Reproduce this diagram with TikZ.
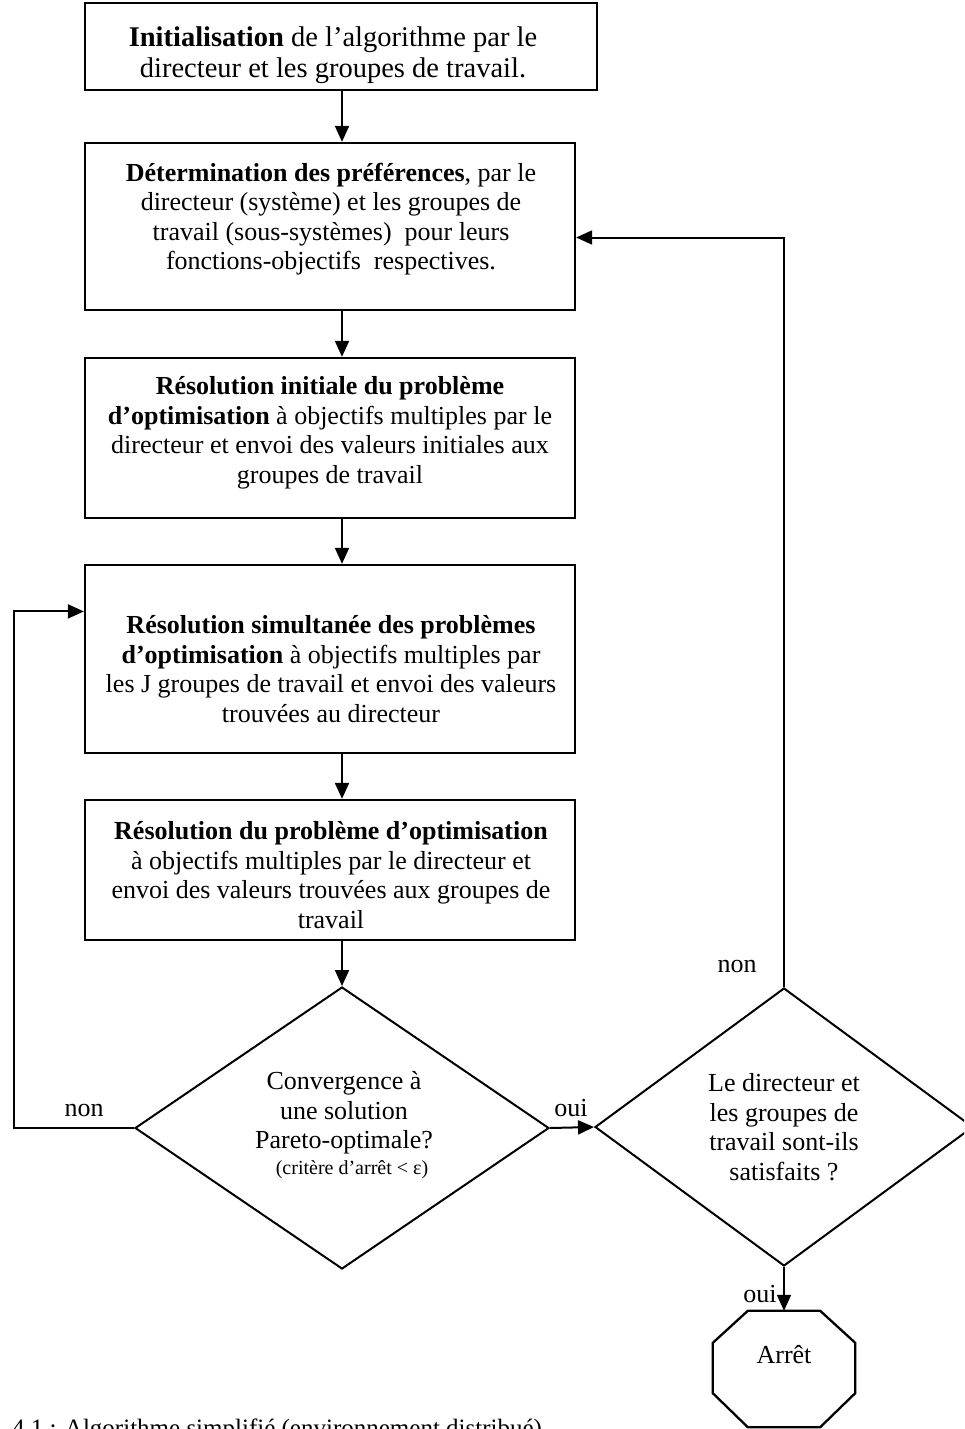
\documentclass[tikz,border=0pt]{standalone}
\usepackage{fontspec}
\setmainfont{Liberation Serif}
\usetikzlibrary{arrows.meta,shapes.geometric,calc}

\tikzset{
  box/.style={draw, line width=2.3pt, rectangle, inner sep=0pt},
  dec/.style={draw, line width=2pt, diamond, inner sep=0pt},
  txt/.style={align=center, inner sep=0pt, font=\fontsize{26}{29.5}\selectfont},
  bigtxt/.style={align=center, inner sep=0pt, font=\fontsize{28.5}{30.5}\selectfont},
  small/.style={inner sep=0pt, font=\fontsize{20}{22}\selectfont},
  lbl/.style={inner sep=0pt, font=\fontsize{26}{29.5}\selectfont},
  arr/.style={line width=2pt, -{Triangle[length=16pt,width=14pt]}},
}

\begin{document}
\begin{tikzpicture}[x=1pt, y=-1pt]
\useasboundingbox (0,0) rectangle (964,1429);
\clip (0,0) rectangle (964,1429);

% process boxes
\node[box, minimum width=512, minimum height=87]  (b1) at (341,46.5) {};
\node[box, minimum width=490, minimum height=167] (b2) at (330,226.5) {};
\node[box, minimum width=490, minimum height=160] (b3) at (330,438) {};
\node[box, minimum width=490, minimum height=188] (b4) at (330,659) {};
\node[box, minimum width=490, minimum height=140] (b5) at (330,870) {};

\node[bigtxt] (t1) at (333,55) {\textbf{Initialisation} de l'algorithme par le\\directeur et les groupes de travail.};
\node[txt] (t2) at (331,219) {\textbf{Détermination des préférences}, par le\\directeur (système) et les groupes de\\travail (sous-systèmes)\ \ pour leurs\\fonctions-objectifs\ \ respectives.};
\node[txt] (t3) at (330,433) {\textbf{Résolution initiale du problème}\\\textbf{d'optimisation} à objectifs multiples par le\\directeur et envoi des valeurs initiales aux\\groupes de travail};
\node[txt] (t4) at (331,669) {\textbf{Résolution simultanée des problèmes}\\\textbf{d'optimisation} à objectifs multiples par\\les J groupes de travail et envoi des valeurs\\trouvées au directeur};
\node[txt] (t5) at (331,875) {\textbf{Résolution du problème d'optimisation}\\à objectifs multiples par le directeur et\\envoi des valeurs trouvées aux groupes de\\travail};

% decisions
\node[dec, minimum width=414, minimum height=282] (d1) at (342,1128) {};
\node[dec, minimum width=378, minimum height=278] (d2) at (784,1127) {};
\node[txt] (t6) at (344,1113) {Convergence à\\une solution\\Pareto-optimale?};
\node[small] (t7) at (352,1170) {(critère d'arrêt < ε)};
\node[txt] (t8) at (784,1127) {Le directeur et\\les groupes de\\travail sont-ils\\satisfaits ?};

% stop octagon
\node[minimum width=142, minimum height=116, inner sep=0pt] (stop) at (784,1369) {};
\draw[line width=2.3pt]
  ($(stop.north west)+(35,0)$) -- ($(stop.north east)+(-35,0)$)
  -- ($(stop.north east)+(0,32)$) -- ($(stop.south east)+(0,-34)$)
  -- ($(stop.south east)+(-35,0)$) -- ($(stop.south west)+(35,0)$)
  -- ($(stop.south west)+(0,-34)$) -- ($(stop.north west)+(0,32)$) -- cycle;
\node[lbl] (t9) at (784,1355) {Arrêt};

% main flow
\draw[arr] (b1.south -| d1.north) -- (b2.north -| d1.north);
\draw[arr] (b2.south -| d1.north) -- (b3.north -| d1.north);
\draw[arr] (b3.south -| d1.north) -- (b4.north -| d1.north);
\draw[arr] (b4.south -| d1.north) -- (b5.north -| d1.north);
\draw[arr] (b5.south -| d1.north) -- (d1.north);
\draw[arr] (d1.east) -- (d2.west);
\draw[arr] (d2.south) -- (stop.north);

% loops back
\coordinate (in4) at ($(b4.north west)!0.25!(b4.south west)$);
\coordinate (loopL) at (14,1128);
\draw[arr] (d1.west) -- (loopL) |- (in4);
\coordinate (in2) at ($(b2.north east)!0.565!(b2.south east)$);
\draw[arr] (d2.north) |- (in2);

% branch labels
\node[lbl] (n1) at (84,1110) {non};
\node[lbl] (o1) at (571,1108) {oui};
\node[lbl] (n2) at (737,966) {non};
\node[lbl] (o2) at (760,1294) {oui};

% caption along the bottom edge
\node[lbl, anchor=base west, font=\fontsize{25}{29}\selectfont] (cap) at (12,1436) {4.1 : Algorithme simplifié (environnement distribué)};
\end{tikzpicture}
\end{document}
